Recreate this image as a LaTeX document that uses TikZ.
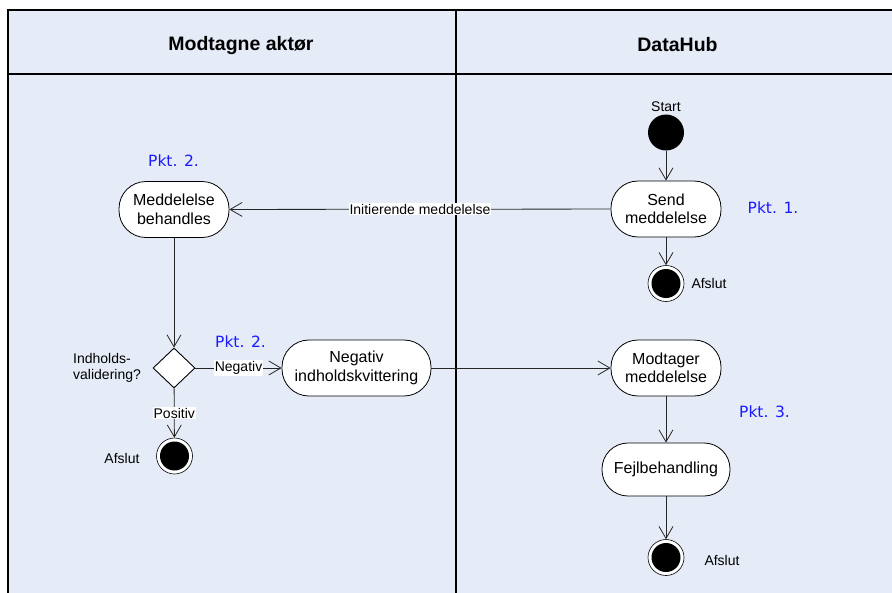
\documentclass[tikz,border=0pt]{standalone}
\usepackage{fontspec}
\setmainfont{Liberation Sans}
\newfontfamily\pktfont{DejaVu Sans}
\usetikzlibrary{arrows.meta,shapes.geometric}
\definecolor{lanebg}{HTML}{E6ECF7}
\definecolor{pktblue}{HTML}{1A1AFF}
\begin{document}
\begin{tikzpicture}[x=1pt,y=-1pt,
  act/.style={draw=black,fill=white,rounded corners=27pt,minimum width=110pt,minimum height=56pt,
    align=center,font=\fontsize{16}{18.5}\selectfont,inner sep=0pt,line width=0.8pt},
  startst/.style={circle,fill=black,minimum size=36pt,inner sep=0pt},
  endst/.style={circle,draw=black,fill=white,line width=0.6pt,minimum size=36pt,inner sep=0pt,
    path picture={\fill[black] (path picture bounding box.center) circle (14.5pt);}},
  decis/.style={diamond,draw=black,fill=white,line width=0.9pt,minimum width=42pt,minimum height=40pt,inner sep=0pt},
  lbl/.style={font=\fontsize{14}{16}\selectfont,inner sep=1pt},
  edgelbl/.style={font=\fontsize{14}{16}\selectfont,fill=white,inner sep=1pt},
  pkt/.style={font=\pktfont\fontsize{15.5}{18}\selectfont,text=pktblue,inner sep=0pt},
  hdr/.style={font=\bfseries\fontsize{19.5}{22}\selectfont,inner sep=0pt},
  flow/.style={draw=black!85,line width=0.8pt,-{Straight Barb[length=12pt,width=14pt,line width=0.8pt]}}
]
\useasboundingbox (0,0) rectangle (892,592);
\clip (0,0) rectangle (892,592);
\fill[white] (0,0) rectangle (892,592);
% swimlane frame
\fill[lanebg] (8,10) rectangle (900,600);
\draw[line width=1.2pt] (456,10) -- (456,600);
\draw[line width=2pt] (8,74) -- (900,74);
\draw[line width=2pt] (7,10) -- (900,10);
\draw[line width=2.5pt] (8,9) -- (8,600);
\node[hdr] (h1) at (241,45) {Modtagne aktør};
\node[hdr] (h2) at (677.5,45) {DataHub};

% DataHub lane
\node[startst] (start) at (666,132.5) {};
\node[lbl] (startlbl) at (666,107) {Start};
\node[act] (send) at (666,209) {Send\\meddelelse};
\node[pkt] (p1) at (773,208) {Pkt. 1.};
\node[endst] (end1) at (666,283.5) {};
\node[lbl] (a1) at (709,283) {Afslut};
\node[act] (modt) at (666,368) {Modtager\\meddelelse};
\node[pkt] (p3) at (764.5,411.5) {Pkt. 3.};
\node[act,minimum width=128pt,minimum height=53pt,rounded corners=26pt] (fejl) at (666,469.5) {Fejlbehandling};
\node[endst] (end3) at (666,557.5) {};
\node[lbl] (a3) at (722,560) {Afslut};

% Modtagne aktør lane
\node[act] (mb) at (174,209.5) {Meddelelse\\behandles};
\node[pkt] (p2a) at (173.5,160.5) {Pkt. 2.};
\node[decis] (dec) at (174,368) {};
\node[lbl,align=left,anchor=west] (dlbl) at (72,368) {Indholds-\\validering?};
\node[pkt] (p2b) at (240.5,341.5) {Pkt. 2.};
\node[act,minimum width=149pt] (neg) at (356.5,368) {Negativ\\indholdskvittering};
\node[endst] (end2) at (174.5,456) {};
\node[lbl] (a2) at (122,458) {Afslut};

% connectors
\draw[flow] (start) -- (send);
\draw[flow] (send) -- (end1);
\draw[flow] (send) -- node[edgelbl] (il) {Initierende meddelelse} (mb);
\draw[flow] (mb) -- (dec);
\draw[flow] (dec) -- node[edgelbl] (nl) {Negativ} (neg);
\draw[flow] (dec) -- node[edgelbl,pos=0.5] (pl) {Positiv} (end2);
\draw[flow] (neg) -- (modt);
\draw[flow] (modt) -- (fejl);
\draw[flow] (fejl) -- (end3);
\end{tikzpicture}
\end{document}
